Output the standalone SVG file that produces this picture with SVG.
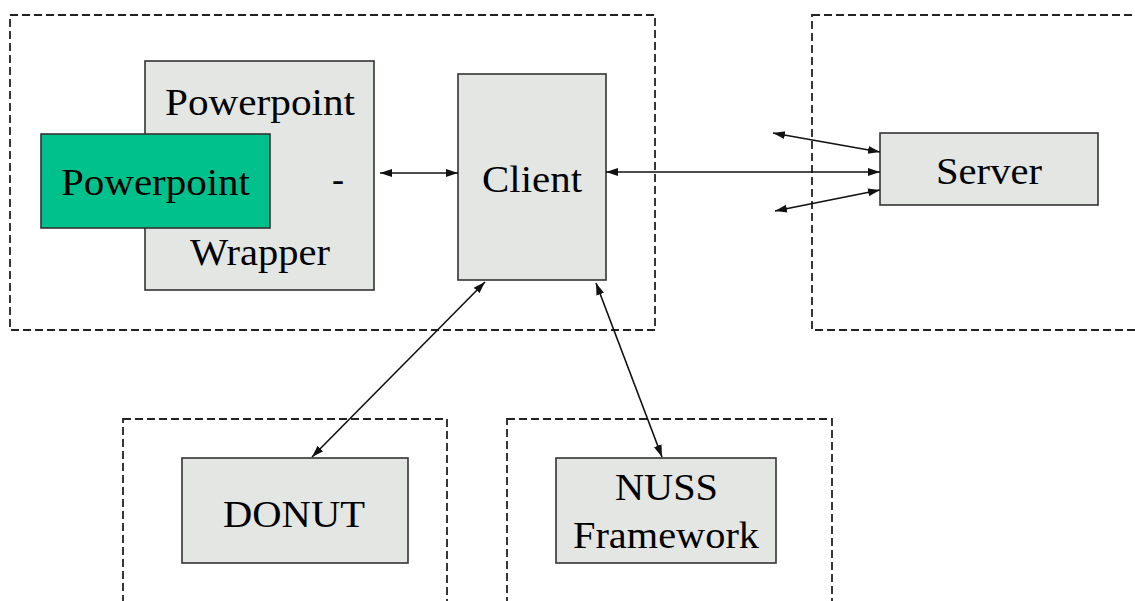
<svg xmlns="http://www.w3.org/2000/svg" width="1135" height="601" viewBox="0 0 1135 601">
<style>
.dash{fill:none;stroke:#222;stroke-width:1.8;stroke-dasharray:8 4}
.box{fill:#e3e6e3;stroke:#333;stroke-width:1.6}
.green{fill:#00c08c;stroke:#333;stroke-width:1.6}
.t{font-family:"Liberation Serif","Times New Roman",serif;font-size:38px;fill:#000}
.c{stroke:#111;stroke-width:1.6;fill:none;marker-start:url(#ah);marker-end:url(#ah)}
</style>
<defs>
<marker id="ah" viewBox="0 0 12 10" refX="12" refY="5" markerWidth="12" markerHeight="10" markerUnits="userSpaceOnUse" orient="auto-start-reverse">
<path d="M0,1 L12,5 L0,9 Z" fill="#111"/>
</marker>
</defs>
<g id="containers">
<rect class="dash" x="10" y="15" width="645" height="315"/>
<rect class="dash" x="812" y="15" width="340" height="315"/>
<rect class="dash" x="123" y="419" width="324" height="200"/>
<rect class="dash" x="507" y="419" width="325" height="200"/>
</g>
<g id="wrapper">
<rect class="box" x="145" y="61" width="229" height="229"/>
<text class="t" x="165" y="115" textLength="190" lengthAdjust="spacingAndGlyphs">Powerpoint</text>
<text class="t" x="332" y="192" textLength="12" lengthAdjust="spacingAndGlyphs">-</text>
<text class="t" x="190" y="265" textLength="140" lengthAdjust="spacingAndGlyphs">Wrapper</text>
</g>
<g id="powerpoint">
<rect class="green" x="41" y="134" width="229" height="94"/>
<text class="t" x="61" y="195" textLength="189" lengthAdjust="spacingAndGlyphs">Powerpoint</text>
</g>
<g id="client">
<rect class="box" x="458" y="74" width="148" height="206"/>
<text class="t" x="482" y="192" textLength="100" lengthAdjust="spacingAndGlyphs">Client</text>
</g>
<g id="server">
<rect class="box" x="880" y="133" width="218" height="72"/>
<text class="t" x="936" y="184" textLength="106" lengthAdjust="spacingAndGlyphs">Server</text>
</g>
<g id="donut">
<rect class="box" x="182" y="458" width="226" height="105"/>
<text class="t" x="223" y="527" textLength="142" lengthAdjust="spacingAndGlyphs">DONUT</text>
</g>
<g id="nuss">
<rect class="box" x="556" y="458" width="220" height="105"/>
<text class="t" x="615" y="500" textLength="103" lengthAdjust="spacingAndGlyphs">NUSS</text>
<text class="t" x="573" y="548" textLength="186" lengthAdjust="spacingAndGlyphs">Framework</text>
</g>
<g id="connectors">
<line class="c" x1="380" y1="173" x2="458" y2="173"/>
<line class="c" x1="606" y1="172" x2="880" y2="172"/>
<line class="c" x1="773" y1="133" x2="880" y2="152"/>
<line class="c" x1="775" y1="211" x2="880" y2="190"/>
<line class="c" x1="485" y1="282" x2="312" y2="457"/>
<line class="c" x1="596" y1="283" x2="662" y2="457"/>
</g>
</svg>
